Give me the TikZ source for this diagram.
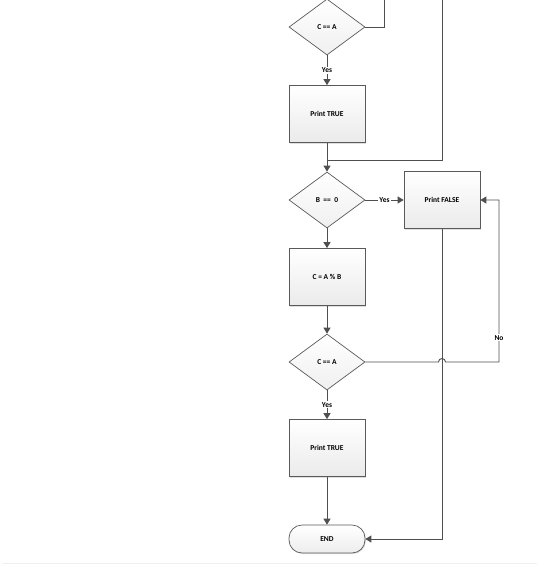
\documentclass[tikz,border=0pt]{standalone}
\usepackage{fontspec}
\setmainfont{Carlito}
\usetikzlibrary{shapes.geometric,arrows.meta,shadows}
\definecolor{linegray}{HTML}{4F4F4F}
\definecolor{boxgray}{HTML}{5A5A5A}
\tikzset{
  every node/.style={font=\fontsize{7.5}{9}\selectfont\bfseries},
  box/.style={draw=boxgray, line width=0.7pt, top color=white, bottom color=gray!16,
    minimum width=76pt, minimum height=57pt, inner sep=0pt,
    drop shadow={opacity=0.25, shadow xshift=1pt, shadow yshift=-1pt}},
  decision/.style={diamond, draw=boxgray, line width=0.7pt, top color=white, bottom color=gray!12,
    minimum width=76pt, minimum height=56pt, inner sep=0pt},
  terminal/.style={draw=boxgray, line width=0.7pt, top color=white, bottom color=gray!14,
    rounded corners=13pt, minimum width=76pt, minimum height=28pt, inner sep=0pt,
    drop shadow={opacity=0.25, shadow xshift=1pt, shadow yshift=-1pt}},
  flow/.style={draw=linegray, line width=0.9pt, -{Triangle[width=7pt,length=6pt]}},
  wire/.style={draw=linegray, line width=0.9pt},
  tag/.style={fill=white, inner sep=1pt}
}
\begin{document}
\begin{tikzpicture}[x=1pt,y=1pt]
  \useasboundingbox (0,0) rectangle (537,-566);
  \clip (0,0) rectangle (537,-566);
  % Main column
  \node[decision] (cmp1)  at (327,-27)  {C == A};
  \node[box]      (true1) at (327,-114) {Print TRUE};
  \node[decision] (zero)  at (327,-200) {B \ == \ 0};
  \node[box]      (mod)   at (327,-277) {C = A \% B};
  \node[decision] (cmp2)  at (327,-362) {C == A};
  \node[box]      (true2) at (327,-448) {Print TRUE};
  \node[terminal] (end)   at (327,-539) {END};
  % Right-hand branch
  \node[box]      (false) at (442,-200) {Print FALSE};
  \coordinate (up1)  at (384,0);
  \coordinate (up2)  at (442,0);
  \coordinate (join) at (327,-160);
  % Connectors
  \draw[wire] (cmp1.east) -| (up1);
  \draw[wire] (up2) |- (join);
  \draw[flow] (cmp1) -- node[tag]{Yes} (true1);
  \draw[flow] (true1) -- (zero);
  \draw[flow] (zero) -- node[tag]{Yes} (false);
  \draw[flow] (zero) -- (mod);
  \draw[flow] (mod) -- (cmp2);
  \draw[flow] (cmp2) -- node[tag]{Yes} (true2);
  \draw[flow] (true2) -- (end);
  \draw[flow] (false) |- (end);
  \draw[flow] (cmp2.east) -- (438.5,-362) arc[start angle=180, end angle=0, radius=3.5pt]
        -- (499,-362) -- node[tag,pos=0.15]{No} (499,-200) -- (false.east);
  \draw[gray!12, line width=1pt] (2,-563) -- (537,-563);
\end{tikzpicture}
\end{document}
